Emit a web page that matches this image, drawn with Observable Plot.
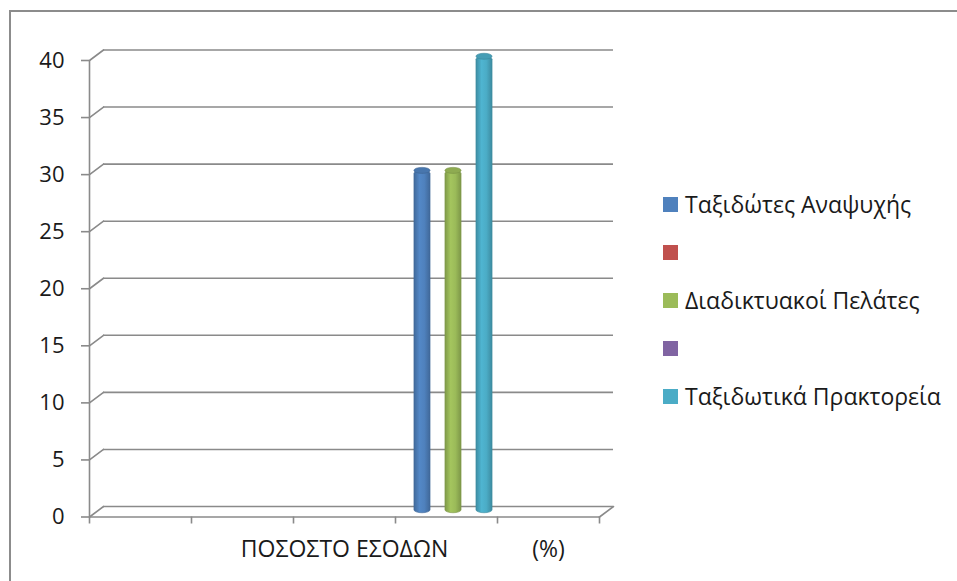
<!DOCTYPE html>
<html>
<head>
<meta charset="utf-8">
<script src="https://cdn.jsdelivr.net/npm/d3@7"></script>
<script src="https://cdn.jsdelivr.net/npm/@observablehq/plot@0.6"></script>
<style>
  html, body { margin: 0; padding: 0; background: #fff; }
  #chart { position: relative; width: 957px; height: 581px; overflow: hidden; background: #fff;
           font-family: "Open Sans", "Noto Sans", sans-serif; color: #1a1a1a; }
  #frame { position: absolute; left: 9px; top: 10px; right: -10px; bottom: -10px;
           border-left: 2px solid #8c8c8c; border-top: 2px solid #8c8c8c; }
  #chart svg { position: absolute; left: 0; top: 0; }
  #legend { position: absolute; left: 663px; top: 180px; }
  .row { height: 48.1px; display: flex; align-items: center; font-size: 23px; white-space: nowrap; }
  .sw { width: 15px; height: 15px; margin-right: 7px; flex: none; }
</style>
</head>
<body>
<div id="chart"><div id="frame"></div></div>
<script>
// Category axis labels (five bands along the floor)
const categories = ["", "", "ΠΟΣΟΣΤΟ ΕΣΟΔΩΝ", "", "(%)"];

// Series names and their theme colours
const seriesNames = ["Ταξιδώτες Αναψυχής", "", "Διαδικτυακοί Πελάτες", "", "Ταξιδωτικά Πρακτορεία"];
const seriesColors = ["#4F81BD", "#C0504D", "#9BBB59", "#8064A2", "#4BACC6"];

// Values per series, one entry per category (null = no bar)
const leisureTravellers = [null, null, null, 30, null];
const seriesBlank1      = [null, null, null, null, null];
const onlineCustomers   = [null, null, null, 30, null];
const seriesBlank2      = [null, null, null, null, null];
const travelAgencies    = [null, null, null, 40, null];
const seriesValues = [leisureTravellers, seriesBlank1, onlineCustomers, seriesBlank2, travelAgencies];

// Value axis ticks
const yTicks = [0, 5, 10, 15, 20, 25, 30, 35, 40];

// Oblique depth of the 3-D box, in pixels (back wall offset)
const depthDX = 14, depthDY = -10.5;
const depthLen = Math.hypot(depthDX, depthDY);
const depthAngle = Math.atan2(depthDX, -depthDY) * 180 / Math.PI;

// Bar layout inside a category band (in band units)
const slot = 0.152, barW = 0.158;

const bars = [];
seriesValues.forEach((vals, s) => {
  vals.forEach((v, c) => {
    if (v == null) return;
    const cx = c + 0.5 + (s - 2) * slot;
    bars.push({series: s, value: v, x1: cx - barW / 2, x2: cx + barW / 2});
  });
});

const gray = "#8a8a8a";
const ink = "#1a1a1a";
const lineShape = {draw(context, l) { context.moveTo(0, 0); context.lineTo(0, -l); }};

// Cylinder bars sit halfway into the box depth
const barDX = depthDX / 2, barDY = depthDY / 2 + 1.5;
const cylinderMarks = seriesColors.flatMap((col, s) => {
  const data = bars.filter(b => b.series === s);
  return [
    Plot.rectY(data, {x1: "x1", x2: "x2", y1: 0, y2: "value", fill: `url(#cyl-${s})`,
      rx: 8, ry: 3, dx: barDX, dy: barDY,
      stroke: d3.color(col).darker(0.6).formatHex(), strokeWidth: 0.6}),
    Plot.rect(data, {x1: "x1", x2: "x2", y1: "value", y2: "value", fill: d3.color(col).darker(0.25).formatHex(),
      insetTop: -3, insetBottom: -3, rx: 8, ry: 3, dx: barDX, dy: barDY,
      stroke: d3.color(col).darker(0.7).formatHex(), strokeWidth: 0.6})
  ];
});

const plot = Plot.plot({
  width: 957,
  height: 581,
  marginLeft: 89,
  marginRight: 358,
  marginTop: 60,
  marginBottom: 64.5,
  style: {fontFamily: "'Open Sans', 'Noto Sans', sans-serif", fontSize: "21px", color: ink, background: "transparent", overflow: "visible"},
  x: {type: "linear", domain: [0, categories.length], axis: null},
  y: {domain: [0, 40], axis: null},
  marks: [
    // back-wall gridlines
    Plot.ruleY(yTicks, {x1: 0, x2: categories.length, dx: depthDX, dy: depthDY, stroke: gray, strokeWidth: 1.6}),
    // diagonal links from the value axis to the back wall
    Plot.vector(yTicks, {x: 0, y: d => d, length: depthLen, rotate: depthAngle, anchor: "start",
      shape: lineShape, stroke: gray, strokeWidth: 1.6}),
    // floor edge on the right
    Plot.vector([0], {x: categories.length, y: d => d, length: depthLen, rotate: depthAngle, anchor: "start",
      shape: lineShape, stroke: gray, strokeWidth: 1.6}),
    // front floor line and value axis line
    Plot.ruleY([0], {x1: 0, x2: categories.length, stroke: gray, strokeWidth: 1.6}),
    Plot.ruleX([0], {y1: 0, y2: 40, stroke: gray, strokeWidth: 1.6}),
    // value axis ticks and labels
    Plot.axisY({ticks: yTicks, tickSize: 8, tickPadding: 17, label: null, stroke: gray, strokeWidth: 1.6, fill: ink, fontSize: 22}),
    // category tick marks
    Plot.axisX({ticks: d3.range(categories.length + 1), tickSize: 7, tickFormat: () => "", label: null, stroke: gray, strokeWidth: 1.6}),
    // category labels
    Plot.text(categories.map((c, i) => ({c, i})), {x: d => d.i + 0.5, y: 0, dy: 33, text: "c", fill: ink, fontSize: 23}),
    ...cylinderMarks
  ]
});

// Horizontal shading for the cylinders
const defs = d3.create("svg:defs");
seriesColors.forEach((col, s) => {
  const base = d3.color(col);
  const g = defs.append("linearGradient").attr("id", `cyl-${s}`).attr("x1", "0").attr("x2", "1").attr("y1", "0").attr("y2", "0");
  g.append("stop").attr("offset", "0%").attr("stop-color", base.darker(0.55).formatHex());
  g.append("stop").attr("offset", "35%").attr("stop-color", base.brighter(0.15).formatHex());
  g.append("stop").attr("offset", "65%").attr("stop-color", base.formatHex());
  g.append("stop").attr("offset", "100%").attr("stop-color", base.darker(0.6).formatHex());
});
plot.insertBefore(defs.node(), plot.firstChild);

const chart = document.getElementById("chart");
chart.appendChild(plot);

// Legend on the right
const legend = d3.select(chart).append("div").attr("id", "legend");
seriesNames.forEach((name, s) => {
  const row = legend.append("div").attr("class", "row");
  row.append("div").attr("class", "sw").style("background", seriesColors[s]);
  row.append("span").text(name);
});
</script>
</body>
</html>
